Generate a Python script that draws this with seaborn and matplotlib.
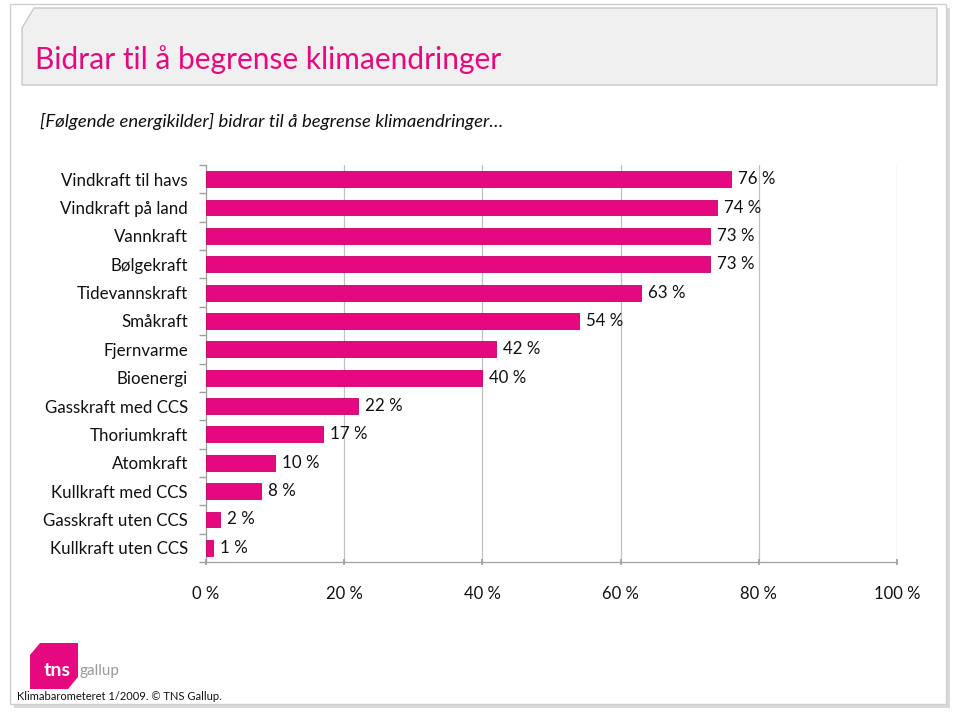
import matplotlib
matplotlib.use("Agg")
import matplotlib.pyplot as plt
import seaborn as sns
import pandas as pd
import numpy as np
from matplotlib.patches import Polygon, Rectangle

categories = ["Vindkraft til havs", "Vindkraft på land", "Vannkraft", "Bølgekraft",
              "Tidevannskraft", "Småkraft", "Fjernvarme", "Bioenergi",
              "Gasskraft med CCS", "Thoriumkraft", "Atomkraft", "Kullkraft med CCS",
              "Gasskraft uten CCS", "Kullkraft uten CCS"]
values = [76, 74, 73, 73, 63, 54, 42, 40, 22, 17, 10, 8, 2, 1]
value_labels = ["76 %", "74 %", "73 %", "73 %", "63 %", "54 %", "42 %", "40 %",
                "22 %", "17 %", "10 %", "8 %", "2 %", "1 %"]
xticks = [0, 20, 40, 60, 80, 100]
xtick_labels = ["0 %", "20 %", "40 %", "60 %", "80 %", "100 %"]

sns.set_theme(style="white")
plt.rcParams['font.family'] = ['Lato', 'DejaVu Sans']

PINK = "#E6087F"
fig = plt.figure(figsize=(9.6, 7.2), dpi=100)
fig.patch.set_facecolor("white")

# card shadow and card
fig.add_artist(Rectangle((14/960, 1-708/720), 936/960, 700/720, transform=fig.transFigure,
                         facecolor="#d9d9d9", edgecolor="none", zorder=-3))
fig.add_artist(Rectangle((10/960, 1-704/720), 936/960, 700/720, transform=fig.transFigure,
                         facecolor="white", edgecolor="#cfcfcf", lw=1, zorder=-2))
# title banner with cut corner
x0, x1 = 22/960, 937/960
y0, y1 = 1-85/720, 1-8/720
banner = Polygon([(x0, y0), (x0, 1-28/720), (x0+12/960, y1), (x1, y1), (x1, y0)],
                 closed=True, transform=fig.transFigure, facecolor="#f0f0f0",
                 edgecolor="#c8c8c8", lw=1, zorder=1)
fig.add_artist(banner)
fig.text(35/960, 1-60/720, "Bidrar til å begrense klimaendringer", color=PINK,
         fontsize=21.5, va="center", ha="left", zorder=2)
fig.text(40/960, 1-121/720, "[Følgende energikilder] bidrar til å begrense klimaendringer…",
         fontsize=13.3, style="italic", va="center", ha="left", color="#111111")

ax = fig.add_axes([206/960, 1-562/720, 691/960, 397/720])
ax.set_facecolor("none")
df = pd.DataFrame({"kategori": categories, "verdi": values})
sns.barplot(data=df, y="kategori", x="verdi", orient="h", color=PINK, width=0.56,
            saturation=1, ax=ax, edgecolor="#C4006A", linewidth=0.6, zorder=3)
ax.set_xlim(0, 100)
ax.set_ylim(len(categories)-0.5, -0.5)
ax.set_xticks(xticks)
ax.set_xticklabels(xtick_labels, fontsize=12)
ax.set_xlabel("")
ax.set_ylabel("")
ax.tick_params(axis="y", labelsize=12.2, length=0, pad=13, labelcolor="#111111")
ax.tick_params(axis="x", length=5, pad=15, color="#a0a0a0", direction="inout", bottom=True,
               labelcolor="#111111")
ax.set_yticks(np.arange(-0.5, len(categories)+0.5, 1), minor=True)
ax.tick_params(axis="y", which="minor", length=5, color="#a0a0a0", left=True)
ax.grid(axis="x", color="#c0c0c0", lw=0.9, zorder=0)
for s in ["top", "right"]:
    ax.spines[s].set_visible(False)
for s in ["left", "bottom"]:
    ax.spines[s].set_color("#a0a0a0")
    ax.spines[s].set_linewidth(0.9)
for i, (v, lab) in enumerate(zip(values, value_labels)):
    ax.text(v + 1.0, i, lab, va="center", ha="left", fontsize=12.2, color="#111111")

# logo
lx0, lx1 = 30/960, 78/960
ly0, ly1 = 1-689/720, 1-643/720
logo = Polygon([(lx0, ly0), (lx0, 1-655/720), (lx0+10/960, ly1), (lx1, ly1),
                (lx1, 1-677/720), (lx1-10/960, ly0)], closed=True,
               transform=fig.transFigure, facecolor=PINK, edgecolor="none")
fig.add_artist(logo)
fig.text(44/960, 1-671/720, "tns", color="white", fontsize=14, fontweight="bold",
         va="center", ha="left")
fig.text(80/960, 1-671/720, "gallup", color="#9a9a9a", fontsize=11, va="center", ha="left")
fig.text(17/960, 1-697/720, "Klimabarometeret 1/2009. © TNS Gallup.", fontsize=8,
         va="center", ha="left", color="#111111")

fig.savefig("out.png", dpi=100)
